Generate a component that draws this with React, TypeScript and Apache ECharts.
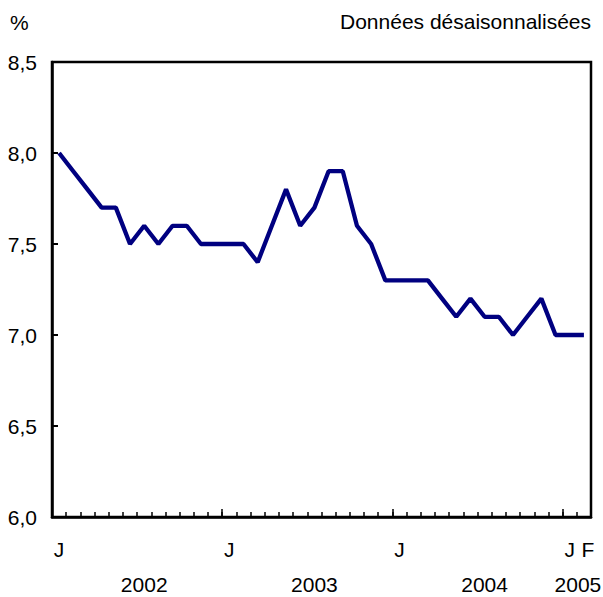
import React, { useEffect, useRef } from "react";
import * as echarts from "echarts";

const values: number[] = [
  8.0, 7.9, 7.8, 7.7, 7.7, 7.5, 7.6, 7.5, 7.6, 7.6, 7.5, 7.5,
  7.5, 7.5, 7.4, 7.6, 7.8, 7.6, 7.7, 7.9, 7.9, 7.6, 7.5, 7.3,
  7.3, 7.3, 7.3, 7.2, 7.1, 7.2, 7.1, 7.1, 7.0, 7.1, 7.2, 7.0,
  7.0, 7.0,
];
const monthInitials: string[] = ["J", "F", "M", "A", "M", "J", "J", "A", "S", "O", "N", "D"];
const yearLabels: string[] = ["2002", "2003", "2004", "2005"];
const yearLabelIndex: number[] = [6, 18, 30, 37];
const yTicks = { min: 6, max: 8.5, interval: 0.5 };
const unitLabel = "%";
const noteLabel = "Données désaisonnalisées";

const FONT = "'Liberation Sans', Arial, Helvetica, sans-serif";
const FS = 21;

export default function App() {
  const ref = useRef<HTMLDivElement>(null);
  useEffect(() => {
    if (!ref.current) return;
    const chart = echarts.init(ref.current, undefined, { renderer: "svg" });
    const last = values.length - 1;
    const categories = values.map((_, i) =>
      i === last
        ? { value: monthInitials[i % 12], textStyle: { padding: [0, 0, 0, 8] } }
        : monthInitials[i % 12]
    );
    const yearCats = values.map((_, i) => {
      const k = yearLabelIndex.indexOf(i);
      if (k < 0) return "";
      if (i === last) return { value: yearLabels[k], textStyle: { padding: [0, 12, 0, 0] } };
      return yearLabels[k];
    });
    chart.setOption({
      animation: false,
      grid: {
        left: 52,
        right: 12,
        top: 62,
        bottom: 80,
        show: true,
        borderColor: "#000",
        borderWidth: 2.5,
        outerBoundsMode: "none",
      },
      graphic: [
        {
          type: "text",
          left: 10,
          top: 12,
          style: { text: unitLabel, font: `${FS}px ${FONT}`, fill: "#000" },
        },
        {
          type: "text",
          right: 12,
          top: 11,
          style: { text: noteLabel, font: `${FS}px ${FONT}`, fill: "#000" },
        },
      ],
      xAxis: [
        {
          type: "category",
          position: "bottom",
          data: categories,
          boundaryGap: true,
          axisLine: { show: true, lineStyle: { color: "#000", width: 2.5 } },
          axisTick: {
            show: true,
            inside: true,
            length: 5,
            interval: 0,
            lineStyle: { color: "#000", width: 1.5 },
          },
          axisLabel: {
            interval: (i: number) => i % 12 === 0 || i === last,
            margin: 22,
            fontFamily: FONT,
            fontSize: FS,
            color: "#000",
          },
          splitLine: { show: false },
        },
        {
          type: "category",
          position: "bottom",
          offset: 0,
          data: yearCats,
          boundaryGap: true,
          axisLine: { show: false },
          axisTick: {
            show: true,
            inside: true,
            length: 8,
            interval: (i: number) => i % 12 === 0,
            lineStyle: { color: "#000", width: 1.5 },
          },
          axisLabel: {
            interval: 0,
            margin: 58,
            lineHeight: 18,
            fontFamily: FONT,
            fontSize: FS,
            color: "#000",
          },
          splitLine: { show: false },
        },
      ],
      yAxis: {
        type: "value",
        min: yTicks.min,
        max: yTicks.max,
        interval: yTicks.interval,
        axisLine: { show: true, lineStyle: { color: "#000", width: 2.5 } },
        axisTick: { show: true, inside: true, length: 6, lineStyle: { color: "#000", width: 2 } },
        axisLabel: {
          margin: 15,
          fontFamily: FONT,
          fontSize: FS,
          color: "#000",
          formatter: (v: number) => v.toFixed(1).replace(".", ","),
        },
        splitLine: { show: false },
      },
      series: [
        {
          type: "line",
          data: values,
          xAxisIndex: 0,
          symbol: "none",
          lineStyle: { color: "#000080", width: 4.3 },
          itemStyle: { color: "#000080" },
        },
      ],
    });
    return () => chart.dispose();
  }, []);
  return <div ref={ref} style={{ width: 603, height: 597, position: "absolute", left: 0, top: 0 }} />;
}
